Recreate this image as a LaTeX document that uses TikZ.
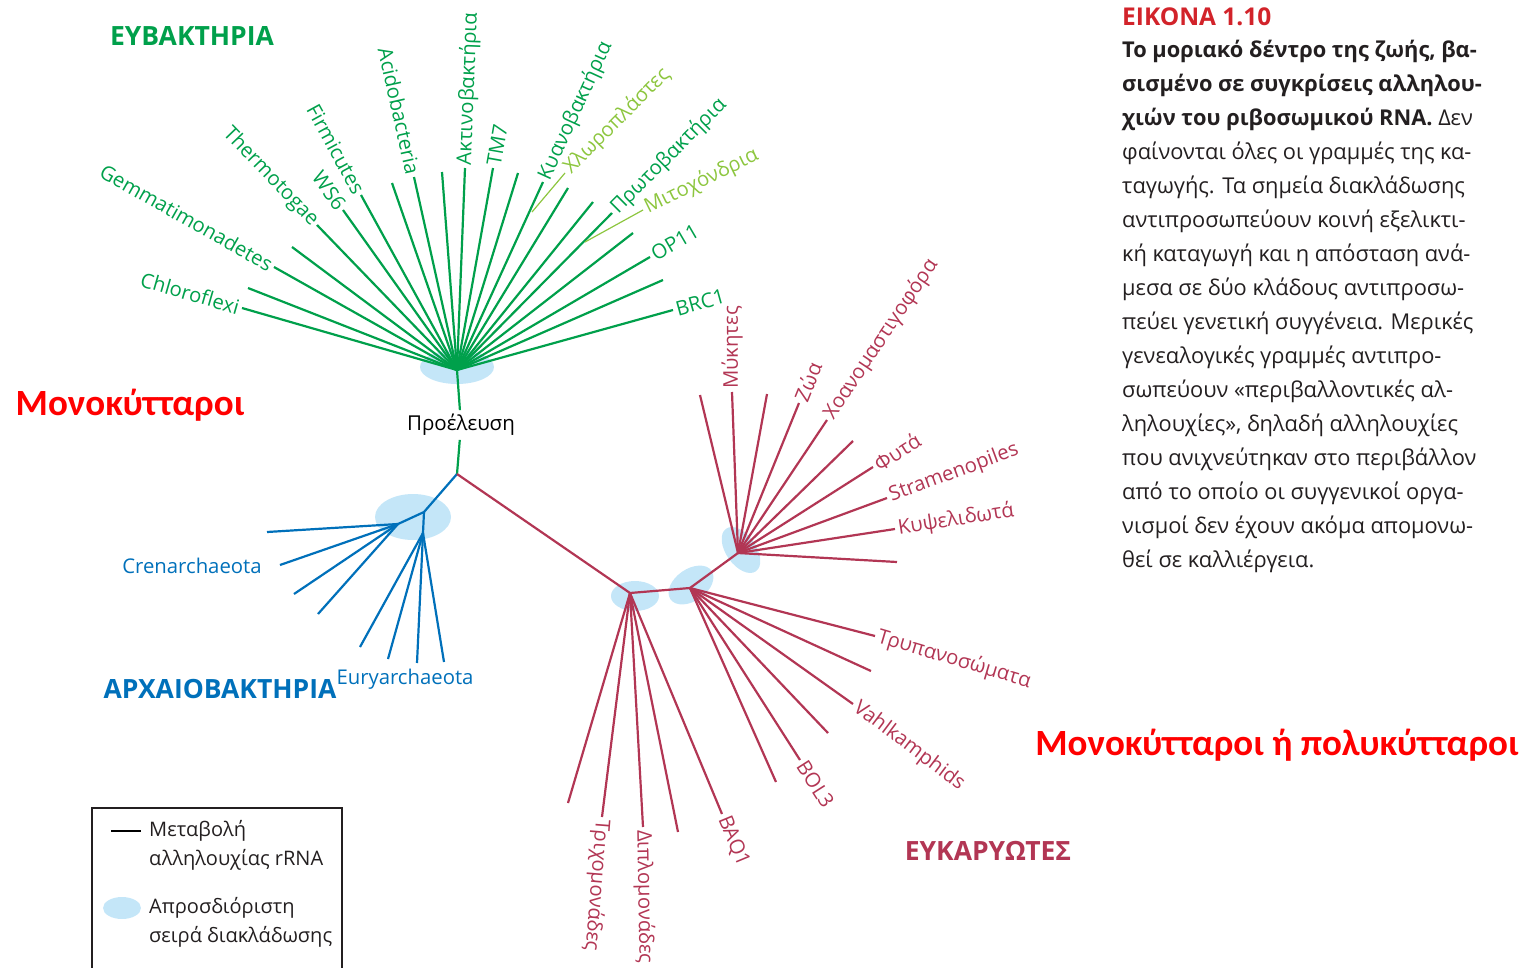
\documentclass[tikz,border=0pt]{standalone}
\usepackage{fontspec}
\setmainfont{Open Sans}
\newfontfamily\calib{Carlito}
\definecolor{bact}{RGB}{0,160,75}
\definecolor{lgreen}{RGB}{141,198,63}
\definecolor{arch}{RGB}{0,112,186}
\definecolor{euk}{RGB}{178,54,84}
\definecolor{blob}{RGB}{196,230,248}
\definecolor{bigred}{RGB}{255,0,0}
\definecolor{captred}{RGB}{210,35,42}
\definecolor{capttext}{RGB}{35,31,32}
\tikzset{
  gline/.style={draw=bact,line width=2.2pt},
  lgline/.style={draw=lgreen,line width=1.2pt},
  aline/.style={draw=arch,line width=2.2pt},
  eline/.style={draw=euk,line width=2.2pt},
  lab/.style={font=\fontsize{20.3}{20.3}\selectfont,inner sep=3pt},
  glab/.style={lab,text=bact},
  lglab/.style={lab,text=lgreen},
  alab/.style={lab,text=arch},
  elab/.style={lab,text=euk},
  group/.style={font=\fontsize{26.5}{26.5}\selectfont\bfseries,inner sep=0pt},
  bigr/.style={font=\calib\fontsize{37}{37}\selectfont\bfseries,text=bigred,inner sep=0pt},
  capline/.style={anchor=base west,inner sep=0pt,text=capttext,font=\fontsize{21.8}{21.8}\selectfont},
  legtext/.style={anchor=west,inner sep=0pt,font=\fontsize{20}{20}\selectfont,text=capttext},
}
\begin{document}
\begin{tikzpicture}[x=1pt,y=-1pt]
\useasboundingbox (0,0) rectangle (1524,967);

% uncertainty blobs
\fill[blob] (457,367) ellipse [x radius=37pt,y radius=17pt];
\fill[blob] (413,517) ellipse [x radius=38pt,y radius=23pt];
\fill[blob] (635,596) ellipse [x radius=24pt,y radius=15pt];
\fill[blob,rotate around={35:(691,585)}] (691,585) ellipse [x radius=25pt,y radius=16pt];
\fill[blob,rotate around={-55:(741,550)}] (741,550) ellipse [x radius=26pt,y radius=15pt];

% tree junctions
\coordinate (R) at (457,370);
\coordinate (J) at (457,474);
\coordinate (A1) at (424,512);
\coordinate (C) at (398,524);
\coordinate (E) at (423,533);
\coordinate (K1) at (630,593);
\coordinate (K2) at (690,588);
\coordinate (K3) at (738,553);

% origin
\node[lab,inner sep=4pt,font=\fontsize{20.5}{20.5}\selectfont] (orig) at (461,425) {Προέλευση};
\draw[gline] (R) -- (orig);
\draw[gline] (orig) -- (J);

% bacteria
\foreach \i/\x/\y in {1/242/308,2/248/288,3/274/267,4/292/247,5/317/225,6/343/210,7/361/195,8/392/183,9/414/177,10/442/172,11/465/168,12/493/168,13/518/173,14/543/182,15/568/188,16/593/202,17/612/213,18/633/233,19/650/257,20/663/280,21/673/310}{
  \coordinate (b\i) at (\x,\y);
  \draw[gline] (R) -- (b\i);
}
\coordinate (chlA) at (532,212);
\coordinate (chlB) at (565,173);
\coordinate (mitA) at (585,242);
\coordinate (mitB) at (643,210);
\draw[lgline] (chlA) -- (chlB);
\draw[lgline] (mitA) -- (mitB);

\node[glab,anchor=east,rotate=-16.1] (lChl) at (b1) {Chloroflexi};
\node[glab,anchor=east,rotate=-29.4] (lGem) at (b3) {Gemmatimonadetes};
\node[glab,anchor=east,rotate=-46] (lThe) at (b5) {Thermotogae};
\node[glab,anchor=east,rotate=-54.5] (lWS) at (b6) {WS6};
\node[glab,anchor=east,rotate=-61.3] (lFir) at (b7) {Firmicutes};
\node[glab,anchor=east,rotate=-77.4] (lAci) at (b9) {Acidobacteria};
\node[glab,anchor=west,rotate=87.7] (lAkt) at (b11) {Ακτινοβακτήρια};
\node[glab,anchor=west,rotate=80] (lTM) at (b12) {TM7};
\node[glab,anchor=west,rotate=65.4] (lKya) at (b14) {Κυανοβακτήρια};
\node[lglab,anchor=west,rotate=45] (lChp) at (chlB) {Χλωροπλάστες};
\node[glab,anchor=west,rotate=45] (lPro) at (b17) {Πρωτοβακτήρια};
\node[lglab,anchor=west,rotate=26] (lMit) at (mitB) {Μιτοχόνδρια};
\node[glab,anchor=west,rotate=30.3] (lOP) at (b19) {OP11};
\node[glab,anchor=west,rotate=15.5] (lBRC) at (b21) {BRC1};

% archaea
\draw[aline] (J) -- (A1);
\draw[aline] (A1) -- (C);
\draw[aline] (A1) -- (E);
\foreach \i/\x/\y in {1/267/532,2/280/565,3/294/594,4/318/614}{
  \coordinate (c\i) at (\x,\y);
  \draw[aline] (C) -- (c\i);
}
\foreach \i/\x/\y in {1/360/647,2/388/659,3/417/663,4/444/662}{
  \coordinate (e\i) at (\x,\y);
  \draw[aline] (E) -- (e\i);
}
\node[alab] (lCre) at (192,566) {Crenarchaeota};
\node[alab] (lEur) at (405,679) {Euryarchaeota};

% eukaryotes
\draw[eline] (J) -- (K1) -- (K2) -- (K3);
\foreach \i/\x/\y in {1/700/395,2/732/392,3/767/394,4/799/403,5/827/420,6/853/441,7/873/467,8/887/498,9/895/529,10/897/562}{
  \coordinate (k\i) at (\x,\y);
  \draw[eline] (K3) -- (k\i);
}
\foreach \i/\x/\y in {1/875/636,2/871/671,3/853/704,4/828/733,5/800/760,6/776/782}{
  \coordinate (m\i) at (\x,\y);
  \draw[eline] (K2) -- (m\i);
}
\foreach \i/\x/\y in {1/568/803,2/602/817,3/643/827,4/678/832,5/722/814}{
  \coordinate (n\i) at (\x,\y);
  \draw[eline] (K1) -- (n\i);
}
\node[elab,anchor=west,rotate=90] (lMyk) at (k2) {Μύκητες};
\node[elab,anchor=west,rotate=67.9] (lZoa) at (k4) {Ζώα};
\node[elab,anchor=west,rotate=56.2] (lXoa) at (k5) {Χοανομαστιγοφόρα};
\node[elab,anchor=west,rotate=32.5] (lFyt) at (k7) {Φυτά};
\node[elab,anchor=west,rotate=20.3] (lStr) at (k8) {Stramenopiles};
\node[elab,anchor=west,rotate=8.7] (lKyp) at (k9) {Κυψελιδωτά};
\node[elab,anchor=west,rotate=-16.5] (lTry) at (m1) {Τρυπανοσώματα};
\node[elab,anchor=west,rotate=-37] (lVah) at (m3) {Vahlkamphids};
\node[elab,anchor=west,rotate=-57.4] (lBOL) at (m5) {BOL3};
\node[elab,anchor=west,rotate=-94.5] (lTri) at (n2) {Τριχομονάδες};
\node[elab,anchor=west,rotate=-89] (lDip) at (n3) {Διπλομονάδες};
\node[elab,anchor=west,rotate=-67.4] (lBAQ) at (n5) {BAQ1};

% group names
\node[group,text=bact] (gBac) at (192,36) {ΕΥΒΑΚΤΗΡΙΑ};
\node[group,text=arch] (gArc) at (220,689) {ΑΡΧΑΙΟΒΑΚΤΗΡΙΑ};
\node[group,text=euk] (gEuk) at (988,851) {ΕΥΚΑΡΥΩΤΕΣ};
\node[bigr] (mono) at (130,405) {Μονοκύτταροι};
\node[bigr] (poly) at (1277,745) {Μονοκύτταροι ή πολυκύτταροι};

% caption
\node[anchor=base west,inner sep=0pt,text=captred,font=\fontsize{24.5}{24.5}\selectfont\bfseries] (ctitle) at (1122,25) {ΕΙΚΟΝΑ 1.10};
\node[capline] (cl1) at (1122,57) {\bfseries Το μοριακό δέντρο της ζωής, βα-};
\node[capline] (cl2) at (1122,91) {\bfseries σισμένο σε συγκρίσεις αλληλου-};
\node[capline] (cl3) at (1122,125) {\textbf{χιών του ριβοσωμικού RNA.} Δεν};
\node[capline] (cl4) at (1122,159) {φαίνονται όλες οι γραμμές της κα-};
\node[capline] (cl5) at (1122,193) {ταγωγής. Τα σημεία διακλάδωσης};
\node[capline] (cl6) at (1122,227) {αντιπροσωπεύουν κοινή εξελικτι-};
\node[capline] (cl7) at (1122,261) {κή καταγωγή και η απόσταση ανά-};
\node[capline] (cl8) at (1122,295) {μεσα σε δύο κλάδους αντιπροσω-};
\node[capline] (cl9) at (1122,329) {πεύει γενετική συγγένεια. Μερικές};
\node[capline] (cl10) at (1122,363) {γενεαλογικές γραμμές αντιπρο-};
\node[capline] (cl11) at (1122,397) {σωπεύουν «περιβαλλοντικές αλ-};
\node[capline] (cl12) at (1122,431) {ληλουχίες», δηλαδή αλληλουχίες};
\node[capline] (cl13) at (1122,465) {που ανιχνεύτηκαν στο περιβάλλον};
\node[capline] (cl14) at (1122,499) {από το οποίο οι συγγενικοί οργα-};
\node[capline] (cl15) at (1122,533) {νισμοί δεν έχουν ακόμα απομονω-};
\node[capline] (cl16) at (1122,567) {θεί σε καλλιέργεια.};

% legend
\draw[line width=1.5pt,draw=capttext] (92,985) -- (92,808) -- (342,808) -- (342,985);
\coordinate (lgA) at (111,831);
\coordinate (lgB) at (141,831);
\draw[line width=1.8pt,draw=black] (lgA) -- (lgB);
\node[legtext] (lg1) at (149,831) {Μεταβολή};
\node[legtext] (lg2) at (149,860) {αλληλουχίας rRNA};
\fill[blob] (122,908) ellipse [x radius=19pt,y radius=11pt];
\node[legtext] (lg3) at (149,908) {Απροσδιόριστη};
\node[legtext] (lg4) at (149,937) {σειρά διακλάδωσης};
\end{tikzpicture}
\end{document}
